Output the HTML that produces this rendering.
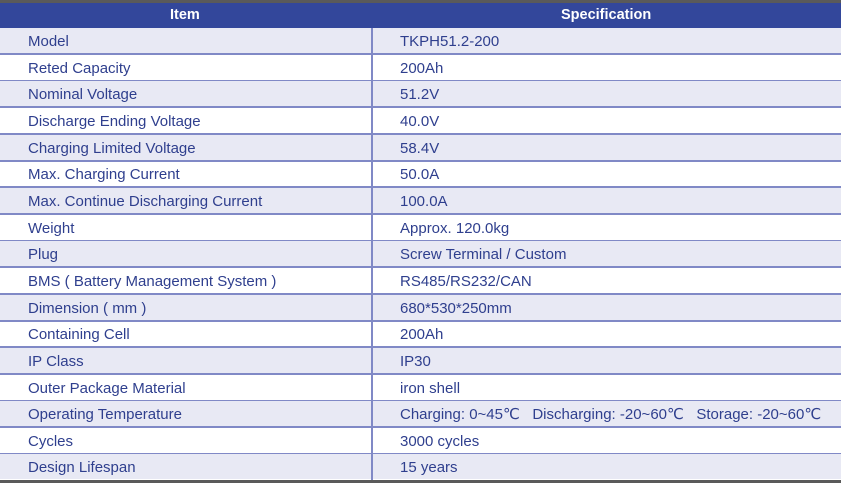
<!DOCTYPE html>
<html><head><meta charset="utf-8"><style>
body{margin:0;width:841px;height:483px;background:#fff;overflow:hidden;font-family:"Liberation Sans","DejaVu Sans",sans-serif;}
.top{position:absolute;left:0;top:0;width:841px;height:3px;background:#5a5a5a;}
.hdr{position:absolute;left:0;top:3px;width:841px;height:25px;background:#33479b;color:#fff;font-weight:bold;font-size:14.5px;}
.hdr div{position:absolute;top:4px;line-height:17px;}
.row{position:absolute;left:0;width:841px;height:25px;border-bottom:2px solid #8089c6;color:#2f3f8e;font-size:15px;}
.row.a{background:#e8e9f4;}
.row span{position:absolute;top:5px;white-space:pre;line-height:17px;height:17px;}
.row .l{left:28px}.row .r{left:400px}
.div{position:absolute;left:371px;top:28px;width:2px;height:453px;background:#8089c6;}
.bot{position:absolute;left:0;top:480px;width:841px;height:3px;background:#5a5a5a;}
</style></head><body>
<div class="top"></div>
<div class="hdr"><div style="left:170px">Item</div><div style="left:561px">Specification</div></div>
<div class="row a" style="top:28px"><span class="l">Model</span><span class="r">TKPH51.2-200</span></div>
<div class="row" style="top:54.7px"><span class="l">Reted Capacity</span><span class="r">200Ah</span></div>
<div class="row a" style="top:81.3px"><span class="l">Nominal Voltage</span><span class="r">51.2V</span></div>
<div class="row" style="top:108px"><span class="l">Discharge Ending Voltage</span><span class="r">40.0V</span></div>
<div class="row a" style="top:134.6px"><span class="l">Charging Limited Voltage</span><span class="r">58.4V</span></div>
<div class="row" style="top:161.3px"><span class="l">Max. Charging Current</span><span class="r">50.0A</span></div>
<div class="row a" style="top:188px"><span class="l">Max. Continue Discharging Current</span><span class="r">100.0A</span></div>
<div class="row" style="top:214.6px"><span class="l">Weight</span><span class="r">Approx. 120.0kg</span></div>
<div class="row a" style="top:241.2px"><span class="l">Plug</span><span class="r">Screw Terminal / Custom</span></div>
<div class="row" style="top:268px"><span class="l">BMS ( Battery Management System )</span><span class="r">RS485/RS232/CAN</span></div>
<div class="row a" style="top:294.5px"><span class="l">Dimension ( mm )</span><span class="r">680*530*250mm</span></div>
<div class="row" style="top:321.2px"><span class="l">Containing Cell</span><span class="r">200Ah</span></div>
<div class="row a" style="top:347.8px"><span class="l">IP Class</span><span class="r">IP30</span></div>
<div class="row" style="top:374.5px"><span class="l">Outer Package Material</span><span class="r">iron shell</span></div>
<div class="row a" style="top:401.1px"><span class="l">Operating Temperature</span><span class="r">Charging: 0~45℃   Discharging: -20~60℃   Storage: -20~60℃</span></div>
<div class="row" style="top:427.8px"><span class="l">Cycles</span><span class="r">3000 cycles</span></div>
<div class="row a" style="top:454.4px;border-bottom:none"><span class="l">Design Lifespan</span><span class="r">15 years</span></div>
<div class="div"></div>
<div class="bot"></div>
</body></html>
